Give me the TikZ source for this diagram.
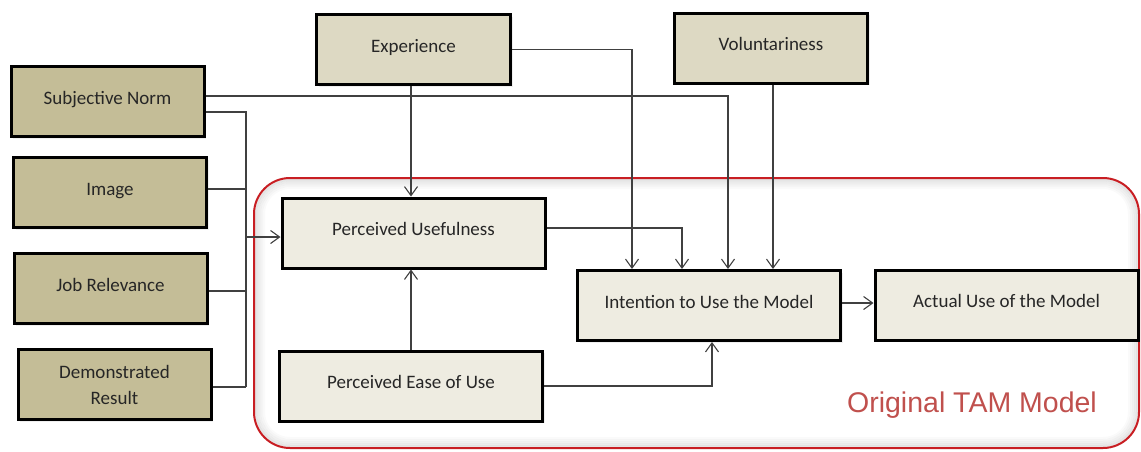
\documentclass[tikz,border=0pt]{standalone}
\usepackage{fontspec}
\setmainfont{Carlito}
\newfontfamily\labelfont{Liberation Sans}
\usetikzlibrary{arrows.meta,shadows}

\definecolor{tanfill}{RGB}{196,189,151}
\definecolor{modfill}{RGB}{221,217,195}
\definecolor{tamfill}{RGB}{238,236,225}
\definecolor{wirecol}{RGB}{64,64,64}
\definecolor{tamred}{RGB}{200,30,35}
\definecolor{tamtext}{RGB}{192,80,77}

\begin{document}
\begin{tikzpicture}[x=1pt,y=-1pt,
  box/.style={draw=black, line width=3pt, inner sep=0pt, align=center,
    minimum width=193pt, minimum height=70pt,
    font=\fontsize{19}{26}\selectfont, text=black!85,
    drop shadow={shadow xshift=2pt, shadow yshift=-2pt, fill=black!12}},
  single/.style={text height=11pt, text depth=6pt},
  extbox/.style={box, single, fill=tanfill},
  modbox/.style={box, single, fill=modfill},
  tambox/.style={box, single, fill=tamfill, minimum width=263pt},
  wire/.style={draw=wirecol, line width=1.1pt},
  feed/.style={wire, -{Straight Barb[length=9pt,width=13pt]}},
  ]
\useasboundingbox (0,0) rectangle (1141,451);

% frame around the original TAM part, with a soft inner shade
\foreach \i/\op in {1/0.10,2/0.08,3/0.06,4/0.04,5/0.02}{
  \draw[black, opacity=\op, line width=2pt, rounded corners={36pt-2*\i pt}]
    (254+2*\i,178+2*\i) rectangle (1139-2*\i,448-2*\i);
}
\draw[tamred, line width=2pt, rounded corners=36pt] (254,178) rectangle (1139,448);
\node[anchor=base, text=tamtext, font=\labelfont\fontsize{28.5}{28.5}\selectfont]
  (tamlabel) at (972,412) {Original TAM Model};

% external variables
\node[extbox] (sn)  at (107.5,101.5) {Subjective Norm};
\node[extbox] (img) at (110,192.5)   {Image};
\node[extbox] (jr)  at (110.5,288.5) {Job Relevance};
\node[box, fill=tanfill] (dr) at (114.5,384.5) {Demonstrated\\Result};

% moderators
\node[modbox, minimum width=194pt] (exp) at (413.5,49.5) {Experience};
\node[modbox] (vol) at (771,48) {Voluntariness};

% TAM constructs
\node[tambox] (pu)   at (413.5,233)  {Perceived Usefulness};
\node[tambox] (peou) at (411,386)    {Perceived Ease of Use};
\node[tambox] (int)  at (709,305.5)  {Intention to Use the Model};
\node[tambox] (act)  at (1006.5,305) {Actual Use of the Model};

% collecting bus of the external variables
\coordinate (busN) at (246,112);
\coordinate (busS) at (246,387);
\coordinate (busP) at (246,237);
\draw[wire] ([yshift=-10.5pt]sn.east) -- (busN) -- (busS);
\draw[wire] ([yshift=3.5pt]img.east) -- ([yshift=3.5pt]img.east -| busN);
\draw[wire] ([yshift=-2.5pt]jr.east) -- ([yshift=-2.5pt]jr.east -| busN);
\draw[wire] ([yshift=-2.5pt]dr.east) -- (busS);
\draw[feed] (busP) -- (busP -| pu.west);

% links into the TAM constructs
\draw[feed] ([yshift=5.5pt]sn.east) -| ([xshift=19pt]int.north);
\draw[feed] (exp.east) -| ([xshift=-77pt]int.north);
\draw[feed] ([xshift=-2.5pt]exp.south) -- ([xshift=-2.5pt]exp.south |- pu.north);
\draw[feed] ([xshift=2pt]vol.south) -- ([xshift=2pt]vol.south |- int.north);
\draw[feed] ([yshift=5pt]pu.east) -| ([xshift=-27pt]int.north);
\draw[feed] (peou.north) -- (peou.north |- pu.south);
\draw[feed] (peou.east) -| ([xshift=3pt]int.south);
\draw[feed] ([yshift=2.5pt]int.east) -- ([yshift=2.5pt]int.east -| act.west);
\end{tikzpicture}
\end{document}
